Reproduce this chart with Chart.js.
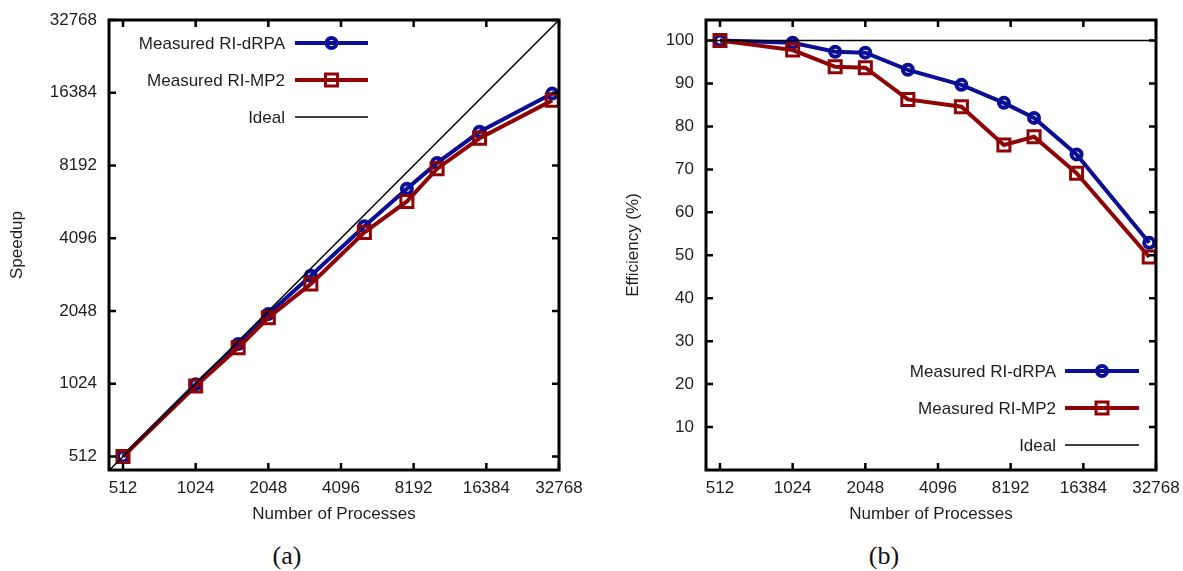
<!DOCTYPE html>
<html>
<head>
<meta charset="utf-8">
<script src="https://cdn.jsdelivr.net/npm/chart.js@4.4.1/dist/chart.umd.min.js"></script>
<style>
  body { margin: 0; background: #fff; width: 1183px; height: 571px; position: relative; overflow: hidden; }
  canvas { position: absolute; top: 0; }
  #speedup { left: 0; }
  #efficiency { left: 600px; }
  .caption { position: absolute; top: 541px; font: 26px "Liberation Serif", "Times New Roman", serif; color: #111; transform: translateX(-50%); }
</style>
</head>
<body>
<canvas id="speedup" width="600" height="540"></canvas>
<canvas id="efficiency" width="583" height="540"></canvas>
<div class="caption" style="left:287px">(a)</div>
<div class="caption" style="left:884px">(b)</div>

<script>
// number of processes used in each run
const procs = [512, 1024, 1536, 2048, 3072, 5120, 7680, 10240, 15360, 30720];

// speedup relative to 512 processes
const speedupDrpa = [512, 1019, 1496, 1991, 2863, 4593, 6566, 8397, 11290, 16250];
const speedupMp2 = [512, 1001, 1442, 1919, 2651, 4331, 5814, 7946, 10614, 15237];

// parallel efficiency in %
const effDrpa = [100, 99.5, 97.4, 97.2, 93.2, 89.7, 85.5, 82.0, 73.5, 52.9];
const effMp2 = [100, 97.8, 93.9, 93.7, 86.3, 84.6, 75.7, 77.6, 69.1, 49.6];

// ideal reference lines
const idealX = [448, 32768];
const idealSpeedup = [448, 32768];
const idealEff = [100, 100];

// tick labels
const procTicks = [512, 1024, 2048, 4096, 8192, 16384, 32768];
const speedupTicks = [512, 1024, 2048, 4096, 8192, 16384, 32768];
const effTicks = [10, 20, 30, 40, 50, 60, 70, 80, 90, 100];

const labels = ["Measured RI-dRPA", "Measured RI-MP2", "Ideal"];

const BLUE = "#0a0f96";
const RED = "#8f0505";
const FONT = "'Liberation Sans', Arial, sans-serif";
const TEXT = "#1e1e1e";

function pts(xs, ys){
  return xs.map((x, i) => ({x: x, y: ys[i]}));
}

// gnuplot style frame with inward ticks on all four sides
const frame = {
  id: "frame",
  afterDraw(chart){
    const {ctx, chartArea: a} = chart;
    const x = chart.scales.x, y = chart.scales.y;
    const len = 7;
    ctx.save();
    ctx.strokeStyle = "#000";
    ctx.lineWidth = 2.5;
    ctx.beginPath();
    for (const t of x.ticks){
      const px = x.getPixelForValue(t.value);
      ctx.moveTo(px, a.bottom); ctx.lineTo(px, a.bottom - len);
      ctx.moveTo(px, a.top); ctx.lineTo(px, a.top + len);
    }
    for (const t of y.ticks){
      const py = y.getPixelForValue(t.value);
      ctx.moveTo(a.left, py); ctx.lineTo(a.left + len, py);
      ctx.moveTo(a.right, py); ctx.lineTo(a.right - len, py);
    }
    ctx.stroke();
    ctx.lineWidth = 3;
    ctx.strokeRect(a.left, a.top, a.right - a.left, a.bottom - a.top);
    ctx.restore();
  }
};

// legend drawn inside the plot, text right aligned, sample on the right
const keyBox = {
  id: "keyBox",
  afterDraw(chart, args, opts){
    const ctx = chart.ctx;
    ctx.save();
    ctx.font = "17px " + FONT;
    ctx.textAlign = "right";
    ctx.textBaseline = "middle";
    chart.data.datasets.forEach((ds, i) => {
      const yy = opts.y + i * opts.step;
      ctx.fillStyle = TEXT;
      ctx.fillText(ds.label, opts.textRight, yy + 1);
      ctx.strokeStyle = ds.borderColor;
      ctx.lineWidth = ds.borderWidth;
      ctx.beginPath();
      ctx.moveTo(opts.x1, yy);
      ctx.lineTo(opts.x2, yy);
      ctx.stroke();
      const mx = (opts.x1 + opts.x2) / 2;
      if (ds.pointRadius > 0){
        ctx.lineWidth = ds.pointBorderWidth;
        ctx.beginPath();
        if (ds.pointStyle === "rect"){
          const h = ds.pointRadius * Math.SQRT1_2;
          ctx.rect(mx - h, yy - h, 2 * h, 2 * h);
        } else {
          ctx.arc(mx, yy, ds.pointRadius, 0, Math.PI * 2);
        }
        ctx.stroke();
      }
    });
    ctx.restore();
  }
};

function series(label, data, color, style, order){
  return {
    label: label,
    data: data,
    borderColor: color,
    borderWidth: 4,
    pointStyle: style,
    pointRadius: style === "rect" ? 8.5 : 5,
    pointBorderWidth: style === "rect" ? 3 : 4,
    pointBorderColor: color,
    pointBackgroundColor: "rgba(0,0,0,0)",
    order: order
  };
}

function idealSeries(data){
  return {
    label: labels[2],
    data: data,
    borderColor: "#000",
    borderWidth: 1.5,
    pointRadius: 0,
    order: 0
  };
}

function xScale(){
  return {
    type: "logarithmic",
    min: 448,
    max: 32768,
    afterBuildTicks: s => { s.ticks = procTicks.map(v => ({value: v})); },
    afterFit: s => { s.height = 55; s.paddingLeft = 0; s.paddingRight = 0; },
    grid: {display: false, drawTicks: false},
    border: {display: false},
    ticks: {
      autoSkip: false, maxRotation: 0, padding: 8,
      color: TEXT, font: {family: FONT, size: 17},
      callback: v => String(v)
    },
    title: {display: true, text: "Number of Processes", color: TEXT, padding: 0, font: {family: FONT, size: 17}}
  };
}

function yFit(width){
  return s => { s.width = width; s.paddingTop = 0; s.paddingBottom = 0; };
}

function renderSpeedup(){
  new Chart("speedup", {
    type: "line",
    data: {
      datasets: [
        series(labels[0], pts(procs, speedupDrpa), BLUE, "circle", 2),
        series(labels[1], pts(procs, speedupMp2), RED, "rect", 1),
        idealSeries(pts(idealX, idealSpeedup))
      ]
    },
    options: {
      responsive: false,
      animation: false,
      devicePixelRatio: 1,
      layout: {padding: {left: 7, top: 20, right: 41, bottom: 15}},
      plugins: {
        legend: {display: false},
        tooltip: {enabled: false},
        keyBox: {textRight: 285, x1: 295, x2: 368, y: 43, step: 37}
      },
      scales: {
        x: xScale(),
        y: {
          type: "logarithmic",
          min: 450,
          max: 32768,
          afterBuildTicks: s => { s.ticks = speedupTicks.map(v => ({value: v})); },
          afterFit: yFit(102),
          grid: {display: false, drawTicks: false},
          border: {display: false},
          ticks: {padding: 12, color: TEXT, font: {family: FONT, size: 17}, callback: v => String(v)},
          title: {display: true, text: "Speedup", color: TEXT, padding: 0, font: {family: FONT, size: 17}}
        }
      }
    },
    plugins: [frame, keyBox]
  });
}

function renderEfficiency(){
  new Chart("efficiency", {
    type: "line",
    data: {
      datasets: [
        series(labels[0], pts(procs, effDrpa), BLUE, "circle", 2),
        series(labels[1], pts(procs, effMp2), RED, "rect", 1),
        idealSeries(pts(idealX, idealEff))
      ]
    },
    options: {
      responsive: false,
      animation: false,
      devicePixelRatio: 1,
      layout: {padding: {left: 23, top: 20, right: 27, bottom: 15}},
      plugins: {
        legend: {display: false},
        tooltip: {enabled: false},
        keyBox: {textRight: 456, x1: 465, x2: 539, y: 371, step: 37}
      },
      scales: {
        x: xScale(),
        y: {
          type: "linear",
          min: 0,
          max: 104.8,
          afterBuildTicks: s => { s.ticks = effTicks.map(v => ({value: v})); },
          afterFit: yFit(83),
          grid: {display: false, drawTicks: false},
          border: {display: false},
          ticks: {padding: 12, color: TEXT, font: {family: FONT, size: 17}, callback: v => String(v)},
          title: {display: true, text: "Efficiency (%)", color: TEXT, padding: 0, font: {family: FONT, size: 17}}
        }
      }
    },
    plugins: [frame, keyBox]
  });
}

renderSpeedup();
renderEfficiency();
</script>
</body>
</html>
